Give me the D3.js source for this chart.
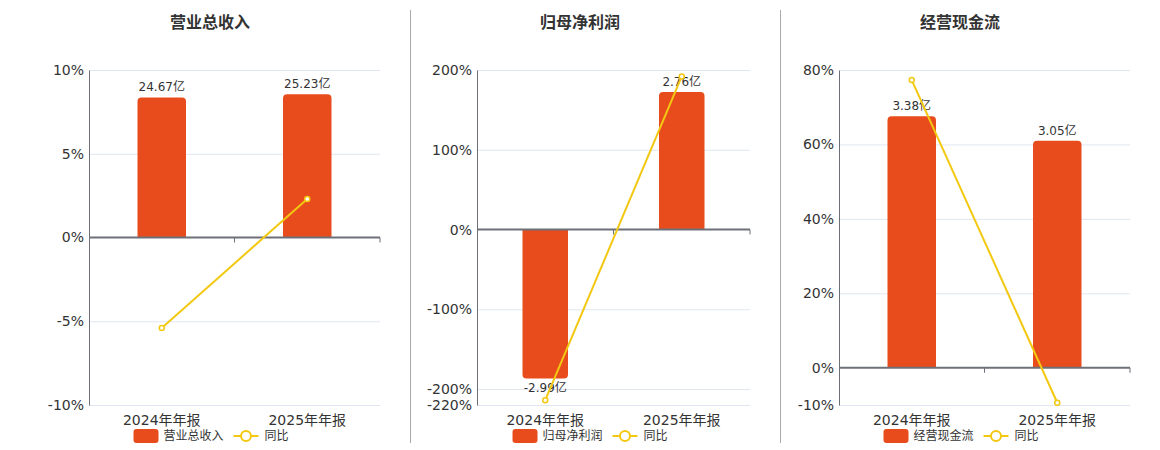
<!DOCTYPE html>
<html>
<head>
<meta charset="utf-8">
<script src="https://cdn.jsdelivr.net/npm/d3@7/dist/d3.min.js"></script>
<style>
  body { margin: 0; background: #fff; }
  svg { font-family: "Noto Sans CJK SC", "DejaVu Sans", sans-serif; }
</style>
</head>
<body>
<svg width="1160" height="450"></svg>
<script>
// data
var categories = ['2024年年报', '2025年年报'];
var titles = ['营业总收入', '归母净利润', '经营现金流'];
var amounts = [[24.67, 25.23], [-2.99, 2.76], [3.38, 3.05]];
var amountLabels = [['24.67亿', '25.23亿'], ['-2.99亿', '2.76亿'], ['3.38亿', '3.05亿']];
var yoy = [[-5.4, 2.3], [-214, 192], [77.3, -9.4]];
var pctTicks = [[-10, -5, 0, 5, 10], [-220, -200, -100, 0, 100, 200], [-10, 0, 20, 40, 60, 80]];
var pctDomains = [[-10, 10], [-220, 200], [-10, 80]];
var amountDomains = [[-29.5, 29.5], [-3.52, 3.2], [-0.5, 4]];

var barColor = '#e84c1c';
var lineColor = '#f2c811';

var panels = [
  {left: 89, right: 380, titleX: 210},
  {left: 477, right: 750, titleX: 580},
  {left: 839, right: 1130, titleX: 960}
];
var plotTop = 70, plotBottom = 405;

var svg = d3.select('svg');

// separators between panels
[410, 780].forEach(function(x){
  svg.append('line')
    .attr('x1', x + 0.5).attr('x2', x + 0.5)
    .attr('y1', 10).attr('y2', 443)
    .attr('stroke', '#aaa')
    .attr('stroke-width', 1);
});

function roundedBar(x, y0, y1, w, r){
  // y1 is the value end, corners rounded there
  if (y1 < y0) {
    return 'M' + x + ',' + y0 + 'V' + (y1 + r) + 'Q' + x + ',' + y1 + ' ' + (x + r) + ',' + y1 +
      'H' + (x + w - r) + 'Q' + (x + w) + ',' + y1 + ' ' + (x + w) + ',' + (y1 + r) + 'V' + y0 + 'Z';
  }
  return 'M' + x + ',' + y0 + 'V' + (y1 - r) + 'Q' + x + ',' + y1 + ' ' + (x + r) + ',' + y1 +
    'H' + (x + w - r) + 'Q' + (x + w) + ',' + y1 + ' ' + (x + w) + ',' + (y1 - r) + 'V' + y0 + 'Z';
}

panels.forEach(function(p, i){
  var g = svg.append('g');

  var x = d3.scaleBand().domain(categories).range([p.left, p.right]);
  var y = d3.scaleLinear().domain(pctDomains[i]).range([plotBottom, plotTop]);
  var yBar = d3.scaleLinear().domain(amountDomains[i]).range([plotBottom, plotTop]);

  g.append('text')
    .attr('x', p.titleX).attr('y', 28)
    .attr('text-anchor', 'middle')
    .attr('font-size', 16).attr('font-weight', 'bold')
    .attr('fill', '#333')
    .text(titles[i]);

  // grid
  g.selectAll('.grid')
    .data(pctTicks[i].filter(function(t){ return t !== 0; }))
    .enter().append('line')
    .attr('x1', p.left).attr('x2', p.right)
    .attr('y1', function(d){ return y(d) + 0.5; })
    .attr('y2', function(d){ return y(d) + 0.5; })
    .attr('stroke', '#e0e6f1');

  // y axis
  var yAxis = d3.axisLeft(y).tickValues(pctTicks[i]).tickSize(0).tickPadding(5)
    .tickFormat(function(d){ return d + '%'; });
  var ya = g.append('g').attr('transform', 'translate(' + p.left + ',0)').call(yAxis);
  ya.select('.domain').attr('stroke', '#6e7079');
  ya.selectAll('text').attr('font-size', 14).attr('fill', '#333')
    .attr('font-family', '"DejaVu Sans", sans-serif');

  // bars
  var bw = x.bandwidth() / 3;
  g.selectAll('.bar')
    .data(amounts[i])
    .enter().append('path')
    .attr('fill', barColor)
    .attr('d', function(d, j){
      return roundedBar(x(categories[j]) + (x.bandwidth() - bw) / 2, yBar(0), yBar(d), bw, 4);
    });

  g.selectAll('.blabel')
    .data(amounts[i])
    .enter().append('text')
    .attr('x', function(d, j){ return x(categories[j]) + x.bandwidth() / 2; })
    .attr('y', function(d){ return d >= 0 ? yBar(d) - 6 : yBar(d) + 4; })
    .attr('dy', function(d){ return d >= 0 ? 0 : '0.8em'; })
    .attr('text-anchor', 'middle')
    .attr('font-size', 12).attr('fill', '#333')
    .attr('font-family', '"DejaVu Sans", "Noto Sans CJK SC", sans-serif')
    .text(function(d, j){ return amountLabels[i][j]; });

  // zero axis with ticks
  g.append('line')
    .attr('x1', p.left).attr('x2', p.right)
    .attr('y1', y(0)).attr('y2', y(0))
    .attr('stroke', '#6e7079').attr('stroke-width', 2);
  g.selectAll('.xtick')
    .data(categories.slice(1).concat(['end']))
    .enter().append('line')
    .attr('x1', function(d){ return d === 'end' ? p.right : x(d); })
    .attr('x2', function(d){ return d === 'end' ? p.right : x(d); })
    .attr('y1', y(0)).attr('y2', y(0) + 5)
    .attr('stroke', '#6e7079');

  // category labels
  g.selectAll('.xlabel')
    .data(categories)
    .enter().append('text')
    .attr('x', function(d){ return x(d) + x.bandwidth() / 2; })
    .attr('y', plotBottom + 20)
    .attr('text-anchor', 'middle')
    .attr('font-size', 14).attr('fill', '#333')
    .attr('font-family', '"DejaVu Sans", "Noto Sans CJK SC", sans-serif')
    .text(function(d){ return d; });

  // yoy line
  var line = d3.line()
    .x(function(d, j){ return x(categories[j]) + x.bandwidth() / 2; })
    .y(function(d){ return y(d); });
  g.append('path')
    .datum(yoy[i])
    .attr('d', line)
    .attr('fill', 'none')
    .attr('stroke', lineColor)
    .attr('stroke-width', 2);
  g.selectAll('.pt')
    .data(yoy[i])
    .enter().append('circle')
    .attr('cx', function(d, j){ return x(categories[j]) + x.bandwidth() / 2; })
    .attr('cy', function(d){ return y(d); })
    .attr('r', 2.5)
    .attr('fill', '#fff')
    .attr('stroke', lineColor)
    .attr('stroke-width', 1.5);

  // legend
  var lx = (p.left + p.right) / 2 - 101;
  var leg = g.append('g').attr('transform', 'translate(' + lx + ',429)');
  leg.append('rect').attr('width', 25).attr('height', 14).attr('rx', 3).attr('fill', barColor);
  leg.append('text').attr('x', 30).attr('y', 7).attr('dy', '0.35em')
    .attr('font-size', 12).attr('fill', '#333').text(titles[i]);
  leg.append('line').attr('x1', 100).attr('x2', 125).attr('y1', 7).attr('y2', 7)
    .attr('stroke', lineColor).attr('stroke-width', 2);
  leg.append('circle').attr('cx', 112.5).attr('cy', 7).attr('r', 5)
    .attr('fill', '#fff').attr('stroke', lineColor).attr('stroke-width', 2);
  leg.append('text').attr('x', 131).attr('y', 7).attr('dy', '0.35em')
    .attr('font-size', 12).attr('fill', '#333').text('同比');
});
</script>
</body>
</html>
